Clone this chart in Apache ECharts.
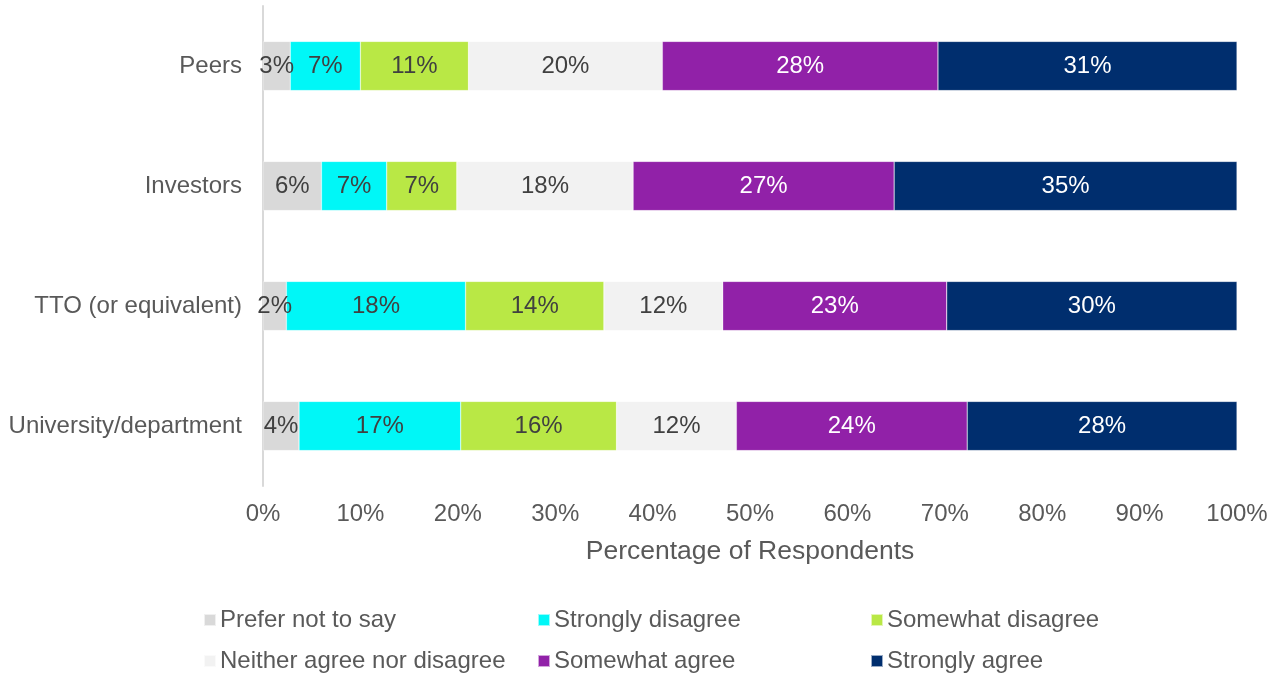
<!DOCTYPE html>
<html>
<head>
<meta charset="utf-8">
<style>
  html, body { margin: 0; padding: 0; background: #ffffff; }
  #chart { width: 1276px; height: 674px; }
</style>
<script src="https://cdn.jsdelivr.net/npm/echarts@6/dist/echarts.min.js"></script>
</head>
<body>
<div id="chart"></div>
<script>
// Respondent groups, top to bottom
const categories = ['Peers', 'Investors', 'TTO (or equivalent)', 'University/department'];

// Response levels, in stacking order
const seriesNames = [
  'Prefer not to say',
  'Strongly disagree',
  'Somewhat disagree',
  'Neither agree nor disagree',
  'Somewhat agree',
  'Strongly agree'
];

// Share of respondents (%) per group, one array per response level
const preferNotToSay   = [2.8, 6.0, 2.4, 3.7];
const stronglyDisagree = [7.2, 6.7, 18.4, 16.6];
const somewhatDisagree = [11.1, 7.2, 14.2, 16.0];
const neither          = [19.9, 18.1, 12.2, 12.3];
const somewhatAgree    = [28.3, 26.8, 23.0, 23.7];
const stronglyAgree    = [30.7, 35.2, 29.8, 27.7];

const xTicks = ['0%', '10%', '20%', '30%', '40%', '50%', '60%', '70%', '80%', '90%', '100%'];

const seriesValues = [preferNotToSay, stronglyDisagree, somewhatDisagree, neither, somewhatAgree, stronglyAgree];
const colors = ['#D9D9D9', '#00F7F7', '#B9E845', '#F2F2F2', '#9121A8', '#002E6E'];
const labelColors = ['#404040', '#404040', '#404040', '#404040', '#ffffff', '#ffffff'];

const FONT = '"Liberation Sans", Arial, sans-serif';

const chart = echarts.init(document.getElementById('chart'), null, { renderer: 'canvas' });

const series = seriesNames.map((name, i) => ({
  name: name,
  type: 'bar',
  stack: 'total',
  barWidth: '41%',
  data: seriesValues[i],
  itemStyle: { color: colors[i], borderColor: 'rgba(255,255,255,0.6)', borderWidth: 0.5 },
  label: {
    show: true,
    position: 'inside',
    formatter: p => Math.round(p.value) + '%',
    color: labelColors[i],
    fontFamily: FONT,
    fontSize: 24
  },
  emphasis: { disabled: true }
}));

// Legend laid out as a 3 x 2 grid
const legendPos = [
  [203, 608], [537, 608], [870, 608],
  [203, 649], [537, 649], [870, 649]
];
const legends = seriesNames.map((name, i) => ({
  data: [name],
  left: legendPos[i][0],
  top: legendPos[i][1],
  orient: 'horizontal',
  icon: 'rect',
  itemWidth: 12,
  itemHeight: 12,
  itemGap: 0,
  padding: 0,
  selectedMode: false,
  textStyle: { fontFamily: FONT, fontSize: 24, color: '#595959', padding: [0, 0, 0, -1] }
}));

chart.setOption({
  animation: false,
  color: colors,
  textStyle: { fontFamily: FONT },
  grid: { left: 263, right: 39, top: 6, bottom: 188, containLabel: false },
  legend: legends,
  xAxis: {
    type: 'value',
    min: 0,
    max: 100,
    interval: 10,
    name: 'Percentage of Respondents',
    nameLocation: 'middle',
    nameGap: 52,
    nameTextStyle: { fontFamily: FONT, fontSize: 26.5, color: '#595959' },
    axisLine: { show: false },
    axisTick: { show: false },
    splitLine: { show: false },
    axisLabel: {
      margin: 16,
      fontFamily: FONT,
      fontSize: 24,
      color: '#595959',
      formatter: v => xTicks[Math.round(v / 10)]
    }
  },
  yAxis: {
    type: 'category',
    data: categories,
    inverse: true,
    axisLine: { show: true, lineStyle: { color: '#D9D9D9', width: 2 } },
    axisTick: { show: false },
    axisLabel: {
      margin: 21,
      fontFamily: FONT,
      fontSize: 24,
      color: '#595959'
    }
  },
  series: series
});
</script>
</body>
</html>
